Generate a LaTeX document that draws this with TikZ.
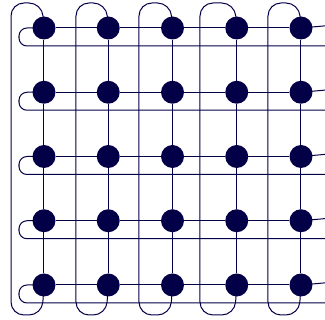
\documentclass[tikz,border=0pt]{standalone}
\usepackage{tikz}
\usetikzlibrary{backgrounds, calc}
\definecolor{meshnavy}{RGB}{4,0,72}

\begin{document}
\begin{tikzpicture}[
      x=1pt, y=-1pt,
      vertex/.style={circle, fill=meshnavy, minimum size=23pt, inner sep=0pt},
      link/.style={draw=meshnavy, line width=1pt},
      wrap/.style={link, rounded corners=#1},
      wrap/.default=9pt
  ]
    \useasboundingbox (0,0) rectangle (325,320);
    \clip (0,0) rectangle (325,320);

    % 5x5 mesh of processing elements
    \foreach \r in {1,...,5}
      \foreach \c in {1,...,5}
        \node[vertex] (n-\r-\c) at ({44+64.25*(\c-1)}, {28+64.25*(\r-1)}) {};

    \begin{scope}[on background layer]
      % row and column links
      \foreach \r in {1,...,5}
        \foreach \c/\d in {1/2,2/3,3/4,4/5} {
          \draw[link] (n-\r-\c) -- (n-\r-\d);
          \draw[link] (n-\c-\r) -- (n-\d-\r);
        }
      % wrap-around links of each row
      \foreach \r in {1,...,5}
        \draw[wrap=8pt] (n-\r-5.center) -- ($(n-\r-5.center)+(45,-4)$)
          -- ($(n-\r-5.center)+(45,18)$) -- ($(n-\r-1.center)+(-25,18)$)
          -- ($(n-\r-1.center)+(-25,0)$) -- (n-\r-1.center);
      % wrap-around links of each column
      \foreach \c/\xr in {1/11,2/76,3/139,4/200,5/268}
        \draw[wrap=13pt] (n-1-\c.center) -- ($(n-1-\c.center)+(-2,-25)$)
          -- (\xr,3) -- (\xr,315) -- ($(n-5-\c.center)+(-2,30)$)
          -- (n-5-\c.center);
    \end{scope}
  \end{tikzpicture}
\end{document}
